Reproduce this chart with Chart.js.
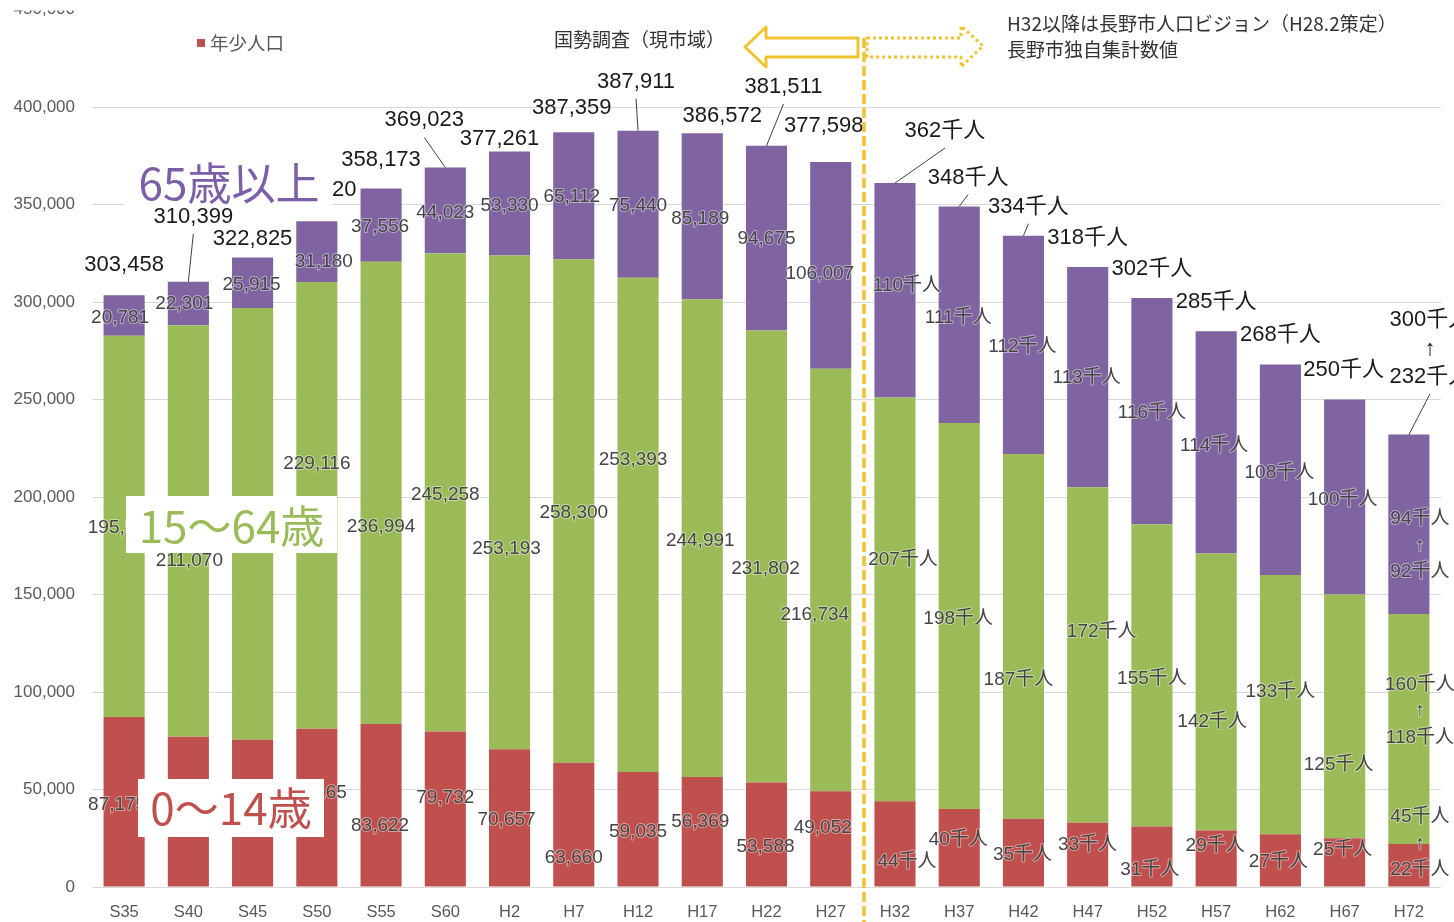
<!DOCTYPE html>
<html>
<head>
<meta charset="utf-8">
<script src="https://cdn.jsdelivr.net/npm/chart.js@4.4.1/dist/chart.umd.min.js"></script>
<style>
  html, body { margin: 0; padding: 0; background: #fff; }
</style>
</head>
<body>
<canvas id="chart" width="1454" height="922"></canvas>
<script>
const categories = ['S35', 'S40', 'S45', 'S50', 'S55', 'S60', 'H2', 'H7', 'H12', 'H17', 'H22', 'H27',
  'H32', 'H37', 'H42', 'H47', 'H52', 'H57', 'H62', 'H67', 'H72'];
// 年少人口 (0-14)
const young = [87175, 77028, 75480, 81165, 83622, 79732, 70657, 63660, 59035, 56369, 53588, 49052,
  44000, 40000, 35000, 33000, 31000, 29000, 27000, 25000, 22000];
// 生産年齢人口 (15-64)
const working = [195502, 211070, 221430, 229116, 236994, 245258, 253193, 258300, 253393, 244991, 231802, 216734,
  207000, 198000, 187000, 172000, 155000, 142000, 133000, 125000, 118000];
// 老年人口 (65+)
const elderly = [20781, 22301, 25915, 31180, 37556, 44023, 53330, 65112, 75440, 85189, 94675, 106007,
  110000, 111000, 112000, 113000, 116000, 114000, 108000, 100000, 92000];
// 総人口 (年齢不詳を含む)
const totals = [303458, 310399, 322825, 341520, 358173, 369023, 377261, 387359, 387911, 386572, 381511, 377598,
  362000, 348000, 334000, 318000, 302000, 285000, 268000, 250000, 232000];
// H72 upper scenario: young, working, elderly, total
const h72High = [45000, 160000, 94000, 300000];
const yTicks = [0, 50000, 100000, 150000, 200000, 250000, 300000, 350000, 400000, 450000];
const projectionStart = 12;

// label nudges in px [dx, dy] (Excel labels were dragged by hand)
const nudgeYoung = [[-7,3],[0,0],[0,0],[1,-15],[-1,21],[0,-11],[-3,2],[0,33],[0,3],[-2,-10],[-1,12],[-8,-11],
  [12,18],[-1,-8],[-1,2],[0,-10],[-2,13],[-1,-13],[-2,1],[-2,-13],[11,-22]];
const nudgeWorking = [[-2,1],[1,30],[0,0],[0,-42],[0,34],[0,2],[-3,46],[0,2],[-5,-65],[-2,3],[-1,12],[-16,35],
  [8,-40],[-1,3],[-5,43],[14,-23],[0,3],[-4,30],[0,-13],[-6,48],[11,-18]];
const nudgeElderly = [[-4,2],[-4,0],[-1,2],[7,10],[-1,2],[0,2],[0,2],[-2,1],[0,2],[-2,2],[0,1],[-11,8],
  [12,-5],[-1,3],[-1,2],[-1,1],[0,2],[-2,3],[-1,3],[-2,3],[11,21]];
const nudgeTotal = [[0,-1],[5,-36],[0,10],[0,-2],[0,0],[-21,-18],[-10,16],[-2,5],[-2,-20],[20,12],[17,-30],[-7,-7],
  [50,-23],[9,0],[5,0],[0,0],[0,0],[0,0],[0,0],[-1,-1],[21,-57]];
const leaders = [1, 5, 8, 10, 12, 13, 14, 20];

const NUM_FONT = "'Liberation Sans', 'Noto Sans CJK JP', sans-serif";
const JP_FONT = "'Noto Sans CJK JP', sans-serif";

const kilo = v => Math.round(v / 1000) + '千人';
const fmt = (v, i) => i >= projectionStart ? kilo(v) : v.toLocaleString('en-US');

function drawLines(ctx, lines, x, y, gap, halo) {
  lines.forEach((t, k) => {
    const ly = y + (k - (lines.length - 1) / 2) * gap;
    if (halo) {
      ctx.lineWidth = 2;
      ctx.lineJoin = 'round';
      ctx.strokeStyle = 'rgba(255,255,255,0.45)';
      ctx.strokeText(t, x, ly);
    }
    ctx.fillText(t, x, ly);
  });
}

function arrow(ctx, pts, dash) {
  ctx.save();
  ctx.beginPath();
  pts.forEach(([px, py], k) => k ? ctx.lineTo(px, py) : ctx.moveTo(px, py));
  ctx.closePath();
  ctx.fillStyle = '#fff';
  ctx.fill();
  ctx.setLineDash(dash);
  ctx.lineWidth = 3;
  ctx.strokeStyle = '#F2C230';
  ctx.stroke();
  ctx.restore();
}

function labelBox(ctx, text, color, box, cy) {
  ctx.fillStyle = '#fff';
  ctx.fillRect(box[0], box[1], box[2], box[3]);
  ctx.font = '44px ' + JP_FONT;
  ctx.fillStyle = color;
  ctx.textAlign = 'center';
  ctx.textBaseline = 'middle';
  ctx.fillText(text, box[0] + box[2] / 2, cy);
}

const overlay = {
  id: 'overlay',
  afterDatasetsDraw(chart) {
    const ctx = chart.ctx;
    const last = categories.length - 1;
    const series = [young, working, elderly];
    const nudges = [nudgeYoung, nudgeWorking, nudgeElderly];
    ctx.save();
    ctx.textAlign = 'center';
    ctx.textBaseline = 'middle';

    // segment labels
    ctx.font = '19px ' + NUM_FONT;
    series.forEach((vals, d) => {
      const meta = chart.getDatasetMeta(d);
      vals.forEach((v, i) => {
        const bar = meta.data[i];
        const cx = bar.x + nudges[d][i][0];
        const cy = (bar.y + bar.base) / 2 + nudges[d][i][1];
        const lines = i === last ? [kilo(h72High[d]), '↑', kilo(v)] : [fmt(v, i)];
        ctx.fillStyle = '#454545';
        drawLines(ctx, lines, cx, cy, 26.5, true);
      });
    });

    // totals above bars
    const top = chart.getDatasetMeta(2);
    ctx.font = '22px ' + NUM_FONT;
    totals.forEach((v, i) => {
      const bar = top.data[i];
      const lx = bar.x + nudgeTotal[i][0];
      const ly = bar.y - 29 + nudgeTotal[i][1];
      const lines = i === last ? [kilo(h72High[3]), '↑', kilo(v)] : [fmt(v, i)];
      ctx.fillStyle = '#1a1a1a';
      drawLines(ctx, lines, lx, ly, 28.5, false);
      if (leaders.includes(i)) {
        const sy = ly + (lines.length - 1) * 14.25 + 17;
        ctx.beginPath();
        ctx.moveTo(lx, sy);
        ctx.lineTo(bar.x, bar.y);
        ctx.strokeStyle = '#404040';
        ctx.lineWidth = 1;
        ctx.stroke();
      }
    });

    // series captions
    labelBox(ctx, '65歳以上', '#7B5EA7', [125, 158, 208, 49], 183);
    labelBox(ctx, '15〜64歳', '#9BBB59', [126, 496, 211, 57], 526);
    labelBox(ctx, '0〜14歳', '#C0504D', [138, 779, 186, 58], 808);

    // legend
    ctx.fillStyle = '#C0504D';
    ctx.fillRect(197, 39, 8, 8);
    ctx.font = '18.5px ' + JP_FONT;
    ctx.fillStyle = '#595959';
    ctx.textAlign = 'left';
    ctx.fillText('年少人口', 210, 43);

    // header notes
    ctx.fillStyle = '#333';
    ctx.font = '19px ' + JP_FONT;
    ctx.fillText('国勢調査（現市域）', 554, 40);
    ctx.font = '19px ' + JP_FONT;
    ctx.fillText('H32以降は長野市人口ビジョン（H28.2策定）', 1007, 24);
    ctx.fillText('長野市独自集計数値', 1007, 50);

    // divider between census and projection
    ctx.beginPath();
    ctx.setLineDash([10, 4]);
    ctx.moveTo(864, 38);
    ctx.lineTo(864, 922);
    ctx.strokeStyle = '#F2C230';
    ctx.lineWidth = 3.5;
    ctx.stroke();
    ctx.setLineDash([]);

    arrow(ctx, [[745, 47], [766, 27], [766, 38], [858, 38], [858, 57], [766, 57], [766, 67]], []);
    arrow(ctx, [[867, 38], [961, 38], [961, 26], [983, 46], [961, 67], [961, 57], [867, 57]], [3, 3]);

    // image top edge cut
    ctx.fillStyle = '#fff';
    ctx.fillRect(0, 0, 1454, 10.5);
    ctx.restore();
  }
};

new Chart(document.getElementById('chart'), {
  type: 'bar',
  data: {
    labels: categories,
    datasets: [
      { label: '年少人口', data: young, backgroundColor: '#C0504D' },
      { label: '生産年齢人口', data: working, backgroundColor: '#9BBB59' },
      { label: '老年人口', data: elderly, backgroundColor: '#8064A2' }
    ]
  },
  options: {
    responsive: false,
    animation: false,
    devicePixelRatio: 1,
    datasets: { bar: { barPercentage: 0.64, categoryPercentage: 1 } },
    layout: { padding: { top: 0, right: 13, bottom: 0, left: 0 } },
    plugins: { legend: { display: false }, tooltip: { enabled: false } },
    scales: {
      x: {
        stacked: true,
        grid: { display: false, drawTicks: false },
        border: { display: false },
        afterFit: scale => { scale.height = 35; },
        ticks: { color: '#595959', font: { size: 16.5, family: NUM_FONT }, padding: 16 }
      },
      y: {
        stacked: true,
        min: 0,
        max: 450000,
        afterBuildTicks: scale => { scale.ticks = yTicks.map(v => ({ value: v })); },
        afterFit: scale => { scale.width = 92; scale.paddingTop = 9.5; scale.paddingBottom = 0; },
        grid: { color: '#d9d9d9', drawTicks: false },
        border: { display: false },
        ticks: {
          color: '#595959',
          font: { size: 17, family: NUM_FONT },
          padding: 17,
          callback: v => v.toLocaleString('en-US')
        }
      }
    }
  },
  plugins: [overlay]
});
</script>
</body>
</html>
